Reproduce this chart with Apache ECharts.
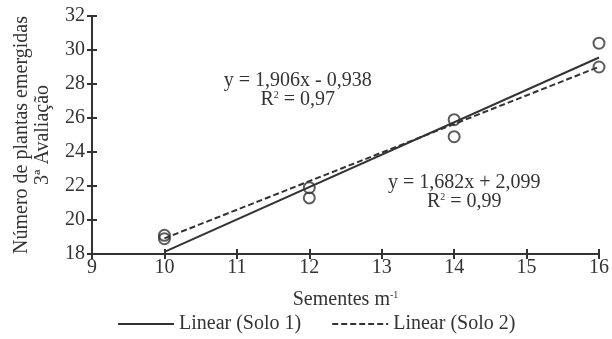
<!DOCTYPE html>
<html><head><meta charset="utf-8">
<script src="https://cdn.jsdelivr.net/npm/echarts@6/dist/echarts.min.js"></script>
<style>html,body{margin:0;padding:0;background:#fff}#c{width:612px;height:339px}</style>
</head><body><div id="c"></div>
<script>
const xCats = [10, 12, 14, 16];
const solo1 = [18.9, 21.3, 24.9, 30.4];
const solo2 = [19.1, 21.9, 25.9, 29.0];
const trend1 = [[10, 18.12], [16, 29.56]];
const trend2 = [[10, 18.92], [16, 29.01]];
const xTicks = [9, 10, 11, 12, 13, 14, 15, 16];
const yTicks = [18, 20, 22, 24, 26, 28, 30, 32];
const eq1 = ['y = 1,906x - 0,938', '0,97'];
const eq2 = ['y = 1,682x + 2,099', '0,99'];

const C = '#333333';
const F = 'Liberation Serif';
const FS = 20;
const chart = echarts.init(document.getElementById('c'));
const axLine = {lineStyle: {color: C, width: 2}};
chart.setOption({
  animation: false,
  textStyle: {fontFamily: F, color: C},
  grid: {left: 92, right: 8, top: 16, bottom: 85},
  xAxis: [{
    type: 'value', min: xTicks[0], max: xTicks[xTicks.length-1], interval: 1,
    axisLine: axLine, axisTick: {length: 5, lineStyle: {color: C, width: 2}},
    splitLine: {show: false},
    axisLabel: {fontSize: FS, color: C, fontFamily: F, margin: 4},
    name: '{a|Sementes m}{s|-1}', nameLocation: 'middle', nameGap: 36,
    nameTextStyle: {rich: {a: {fontSize: FS, fontFamily: F, color: C}, s: {fontSize: 10, fontFamily: F, color: C, padding: [0, 0, 10, 0]}}}
  }, {
    type: 'value', min: xTicks[0], max: xTicks[xTicks.length-1], interval: 1, position: 'bottom',
    axisLine: {show: false}, axisTick: {inside: true, length: 5, lineStyle: {color: C, width: 2}},
    axisLabel: {show: false}, splitLine: {show: false}
  }],
  yAxis: [{
    type: 'value', min: yTicks[0], max: yTicks[yTicks.length-1], interval: 2,
    axisLine: axLine, axisTick: {length: 5, lineStyle: {color: C, width: 2}},
    splitLine: {show: false},
    axisLabel: {fontSize: FS, color: C, fontFamily: F, margin: 7},
    name: 'Número de plantas emergidas\n3ª Avaliação', nameLocation: 'middle', nameGap: 39, nameRotate: 90,
    nameTextStyle: {fontSize: FS, fontFamily: F, color: C, lineHeight: 21}
  }, {
    type: 'value', min: yTicks[0], max: yTicks[yTicks.length-1], interval: 2, position: 'left',
    axisLine: {show: false}, axisTick: {inside: true, length: 5, lineStyle: {color: C, width: 2}},
    axisLabel: {show: false}, splitLine: {show: false}
  }],
  legend: {
    bottom: 0, left: 112, itemWidth: 56, itemHeight: 14, itemGap: 30,
    itemStyle: {opacity: 0},
    textStyle: {fontSize: FS, fontFamily: F, color: C},
    data: ['Linear (Solo 1)', 'Linear (Solo 2)']
  },
  series: [
    {name: 'Linear (Solo 1)', type: 'line', data: trend1, symbol: 'none', lineStyle: {color: C, width: 2}, itemStyle: {color: C}},
    {name: 'Linear (Solo 2)', type: 'line', data: trend2, symbol: 'none', lineStyle: {color: C, width: 2, type: [6, 3]}, itemStyle: {color: C}},
    {name: 'Solo 1', type: 'scatter', data: xCats.map((x, i) => [x, solo1[i]]), symbol: 'circle', symbolSize: 11,
      itemStyle: {color: 'rgba(0,0,0,0)', borderColor: C, borderWidth: 2}},
    {name: 'Solo 2', type: 'scatter', data: xCats.map((x, i) => [x, solo2[i]]), symbol: 'circle', symbolSize: 11,
      itemStyle: {color: 'rgba(0,0,0,0)', borderColor: C, borderWidth: 2}}
  ]
});
function txt(pos, text) {
  const p = chart.convertToPixel({xAxisIndex: 0, yAxisIndex: 0}, pos);
  return {type: 'text', x: p[0], y: p[1], style: {text: text, fill: C, font: FS + 'px "Liberation Serif"', align: 'center', verticalAlign: 'middle',
    rich: {r: {fontSize: FS, fontFamily: F, fill: C}, s: {fontSize: 10, fontFamily: F, fill: C, padding: [0, 0, 9, 0]}}}};
}
chart.setOption({graphic: [
  txt([11.84, 28.2], eq1[0]),
  txt([11.84, 27.05], '{r|R}{s|2}{r| = ' + eq1[1] + '}'),
  txt([14.14, 22.2], eq2[0]),
  txt([14.14, 21.05], '{r|R}{s|2}{r| = ' + eq2[1] + '}')
]});
</script></body></html>
